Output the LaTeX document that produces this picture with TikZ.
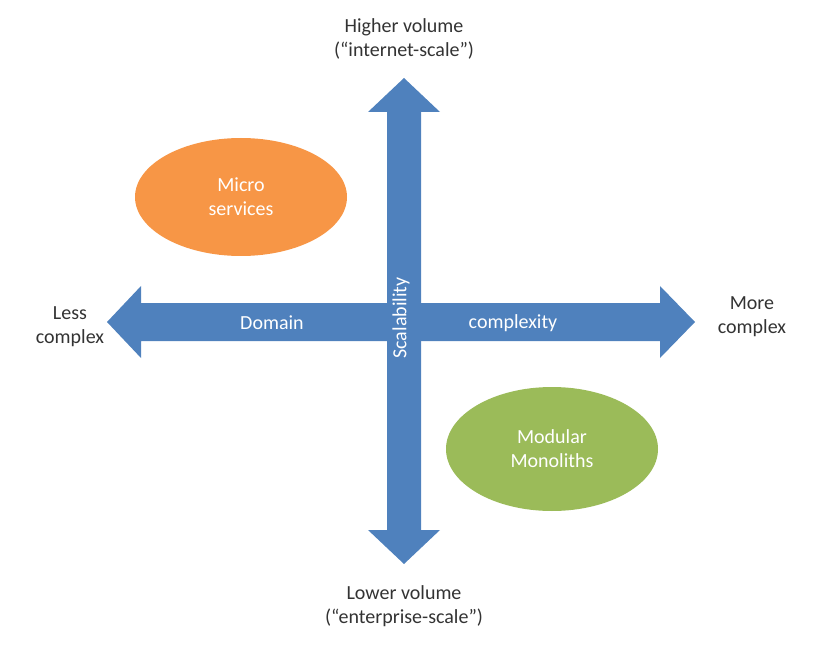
\documentclass[tikz,border=0pt]{standalone}
\usepackage{fontspec}
\setmainfont{Carlito}
\usetikzlibrary{shapes.geometric}
\definecolor{ablue}{HTML}{4F81BD}
\definecolor{aorange}{HTML}{F79646}
\definecolor{agreen}{HTML}{9BBB59}
\begin{document}
\begin{tikzpicture}[x=1pt,y=-1pt,
  lbl/.style={font=\fontsize{20}{24}\selectfont,align=center,text=black!80},
  wl/.style={font=\fontsize{20}{24}\selectfont,align=center,text=white},
  blob/.style={ellipse,minimum width=212pt,minimum height=118pt,inner sep=0pt}]
\useasboundingbox (0,0) rectangle (817,647);
\fill[ablue] (107,322) -- (141,286) -- (141,303) -- (660,303) -- (660,286) -- (695,322) -- (660,358) -- (660,341) -- (141,341) -- (141,358) -- cycle;
\fill[ablue] (404,78) -- (440,112) -- (421,112) -- (421,530) -- (440,530) -- (404,564) -- (368,530) -- (387,530) -- (387,112) -- (368,112) -- cycle;
\node[blob,fill=aorange,wl] (ms) at (241,197) {Micro\\services};
\node[blob,fill=agreen,wl,minimum height=124pt] (mm) at (552,449) {Modular\\Monoliths};
\node[lbl] (hv) at (404,39) {Higher volume\\(“internet-scale”)};
\node[lbl] (lv) at (404,606) {Lower volume\\(“enterprise-scale”)};
\node[lbl] (lc) at (70,327) {Less\\complex};
\node[lbl] (mc) at (752,317) {More\\complex};
\node[wl] (d) at (272,323) {Domain};
\node[wl] (c) at (513,323) {complexity};
\node[wl,rotate=90] (s) at (401,318) {Scalability};
\end{tikzpicture}
\end{document}
